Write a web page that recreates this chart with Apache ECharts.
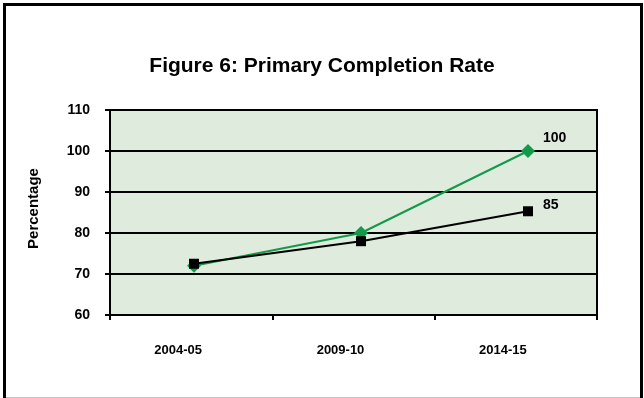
<!DOCTYPE html>
<html>
<head>
<meta charset="utf-8">
<script src="https://cdn.jsdelivr.net/npm/echarts@6/dist/echarts.min.js"></script>
<style>
  html, body { margin: 0; padding: 0; background: #fff; }
  #chart { width: 644px; height: 398px; }
</style>
</head>
<body>
<div id="chart"></div>
<script>
// School years on the category axis
const years = ['2004-05', '2009-10', '2014-15'];
// Primary completion rate, target path (green) and actual trend (black)
const targetRate = [72, 80, 100];
const actualRate = [72.5, 78, 85.3];
// Values printed next to the last points
const endLabels = ['100', '85'];
// Value axis range
const yMin = 60, yMax = 110, yStep = 10;

const FONT = '"Liberation Sans", Arial, sans-serif';

const chart = echarts.init(document.getElementById('chart'), null, { renderer: 'canvas' });

function endLabel(text, distance, offsetY) {
  return {
    show: true,
    position: 'right',
    distance: distance,
    offset: [0, offsetY],
    formatter: function (p) { return p.dataIndex === years.length - 1 ? text : ''; },
    fontFamily: FONT,
    fontWeight: 'bold',
    fontSize: 14,
    color: '#000'
  };
}

chart.setOption({
  animation: false,
  backgroundColor: '#fff',
  title: {
    text: 'Figure 6: Primary Completion Rate',
    left: 'center',
    top: 51,
    textStyle: { fontFamily: FONT, fontWeight: 'bold', fontSize: 21, color: '#000' }
  },
  graphic: [
    {
      type: 'rect',
      shape: { x: 4.5, y: 4.5, width: 637, height: 430 },
      style: { fill: 'none', stroke: '#000', lineWidth: 3 },
      z: 100
    },
    {
      type: 'line',
      shape: { x1: 6, y1: 397.5, x2: 640, y2: 397.5 },
      style: { stroke: '#c4c4c4', lineWidth: 1 },
      z: 100
    }
  ],
  grid: [
    // framed plot area with axes and gridlines
    {
      left: 110, top: 110, right: 47, bottom: 83,
      show: true,
      backgroundColor: '#deebdd',
      borderColor: '#000',
      borderWidth: 2
    },
    // plotting area for the lines, slightly wider spacing between years
    { left: 110.5, top: 110, width: 501, bottom: 83 }
  ],
  xAxis: [
    {
      gridIndex: 0,
      type: 'category',
      data: years,
      boundaryGap: true,
      axisLine: { lineStyle: { color: '#000', width: 2 } },
      axisTick: { show: true, inside: false, length: 5, lineStyle: { color: '#000', width: 2 } },
      axisLabel: {
        margin: 29, fontFamily: FONT, fontWeight: 'bold', fontSize: 13, color: '#000',
        padding: [0, 26, 0, 0]
      }
    },
    {
      gridIndex: 1,
      type: 'category',
      data: years,
      boundaryGap: true,
      show: false
    }
  ],
  yAxis: [
    {
      gridIndex: 0,
      type: 'value',
      min: yMin, max: yMax, interval: yStep,
      name: 'Percentage',
      nameLocation: 'middle',
      nameGap: 69,
      nameRotate: 90,
      nameTextStyle: { fontFamily: FONT, fontWeight: 'bold', fontSize: 15, color: '#000', padding: [0, 0, 0, 8] },
      axisLine: { show: true, lineStyle: { color: '#000', width: 2 } },
      axisTick: { show: true, inside: false, length: 5, lineStyle: { color: '#000', width: 2 } },
      axisLabel: { margin: 20, fontFamily: FONT, fontWeight: 'bold', fontSize: 14, color: '#000' },
      splitLine: { show: true, lineStyle: { color: '#000', width: 2 } }
    },
    {
      gridIndex: 1,
      type: 'value',
      min: yMin, max: yMax, interval: yStep,
      show: false,
      splitLine: { show: false }
    }
  ],
  series: [
    {
      type: 'line',
      xAxisIndex: 1,
      yAxisIndex: 1,
      data: targetRate,
      symbol: 'diamond',
      symbolSize: 14,
      color: '#13994a',
      lineStyle: { color: '#13994a', width: 2 },
      itemStyle: { color: '#13994a' },
      label: endLabel(endLabels[0], 8, -13),
      z: 3
    },
    {
      type: 'line',
      xAxisIndex: 1,
      yAxisIndex: 1,
      data: actualRate,
      symbol: 'rect',
      symbolSize: 10,
      color: '#000',
      lineStyle: { color: '#000', width: 2 },
      itemStyle: { color: '#000' },
      label: endLabel(endLabels[1], 10, -6),
      z: 4
    }
  ]
});
</script>
</body>
</html>
